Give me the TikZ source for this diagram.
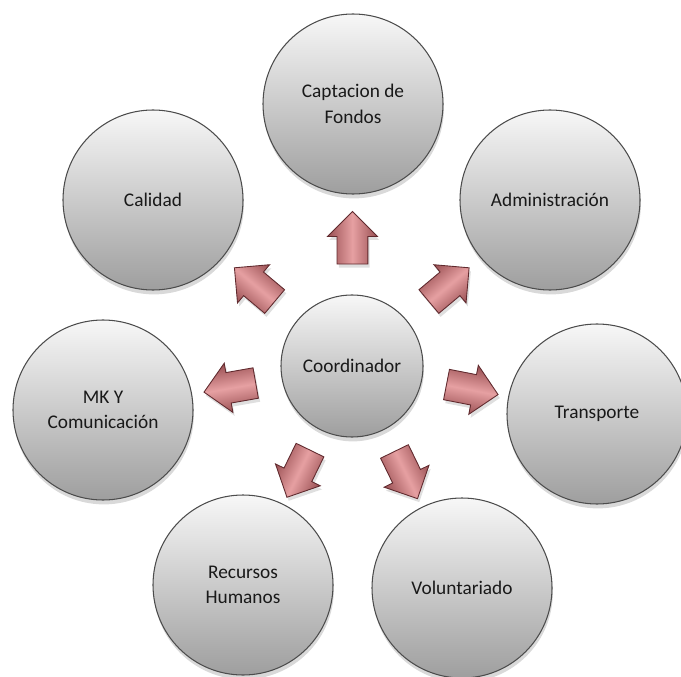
\documentclass[tikz,border=0pt]{standalone}
\usepackage{fontspec}
\setmainfont{Carlito}
\usetikzlibrary{shapes.arrows,shadows,calc}
\definecolor{flechafill}{RGB}{192,100,104}
\definecolor{flechalight}{RGB}{230,160,162}
\definecolor{flechaborde}{RGB}{96,42,46}
\tikzstyle{area} = [circle, draw=black!70, line width=0.6pt, inner sep=0pt, minimum size=3.6cm, top color=black!3, middle color=black!14, bottom color=black!38, align=center, text=black!90, font=\fontsize{11}{14.5}\selectfont, drop shadow={shadow xshift=0.5pt, shadow yshift=-2.5pt, opacity=0.3}]
\tikzstyle{centro} = [area, minimum size=2.84cm]
\tikzstyle{flecha} = [single arrow, draw=flechaborde, line width=0.5pt, minimum height=1.05cm, inner xsep=0pt, inner ysep=0.3cm, single arrow head extend=0.19cm, shading=axis, top color=flechafill!80!black, bottom color=flechafill!80!black, middle color=flechalight, drop shadow={shadow xshift=1pt, shadow yshift=-2pt, opacity=0.25}]

\begin{document}
\begin{tikzpicture}
    \useasboundingbox (0,0) rectangle (13.62,-13.54);
    \node[centro](coord) at (7.04,-7.32){Coordinador};
    \node[area](capt) at (7.06,-2.08){Captacion de\\Fondos};
    \node[area](admin) at (11.0,-4.0){Administración};
    \node[area](trans) at (11.94,-8.28){Transporte};
    \node[area](volun) at (9.24,-11.76){Voluntariado};
    \node[area](recur) at (4.86,-11.70){Recursos\\Humanos};
    \node[area](mk) at (2.06,-8.20){MK Y\\Comunicación};
    \node[area](calid) at (3.06,-4.0){Calidad};
    \foreach \n/\a in {capt/90, admin/40, trans/-11, volun/-64, recur/-116, mk/190, calid/140}
      \node[flecha, rotate=\a, shading angle=\a](f-\n) at ($(coord)!0.46!(\n)$){};
  \end{tikzpicture}
\end{document}
